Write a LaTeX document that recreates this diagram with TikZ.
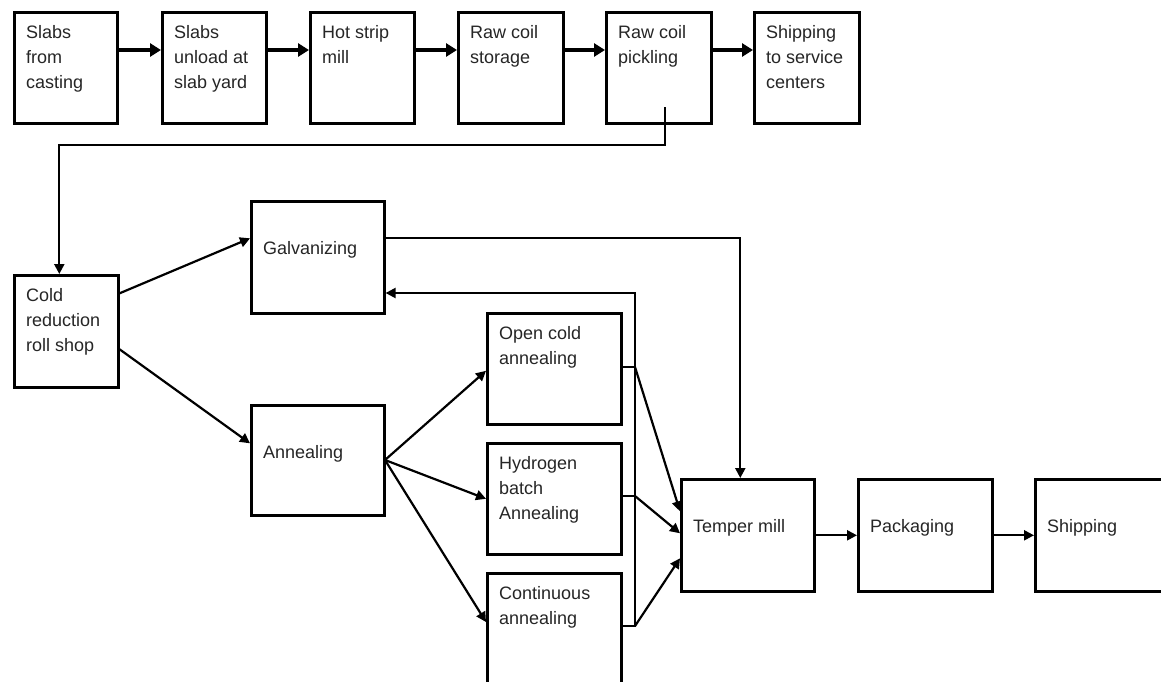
\documentclass[tikz,border=0pt]{standalone}
\usepackage{fontspec}
\setmainfont{Liberation Sans}
\usetikzlibrary{arrows.meta,calc}
\begin{document}
\begin{tikzpicture}[x=1pt,y=-1pt,
  box/.style={draw=black, line width=2.6pt, rectangle, inner sep=0pt, anchor=north west},
  txt/.style={inner sep=0pt, anchor=north west, align=left, text=black!85,
     font=\fontsize{18}{25}\selectfont},
  thick conn/.style={line width=3.8pt, -{Triangle[length=11pt,width=13pt]}},
  conn/.style={line width=2.2pt, -{Triangle[length=10pt,width=10pt]}},
  plain/.style={line width=2.2pt}]
\useasboundingbox (0,0) rectangle (1161,681);
\begin{scope}
\clip (0,0) rectangle (1161,681);
\fill[white] (0,0) rectangle (1161,681);
% top row
\node[box, minimum width=103pt, minimum height=111pt] (b1) at (13,11) {};
\node[box, minimum width=104pt, minimum height=111pt] (b2) at (161,11) {};
\node[box, minimum width=104pt, minimum height=111pt] (b3) at (309,11) {};
\node[box, minimum width=105pt, minimum height=111pt] (b4) at (457,11) {};
\node[box, minimum width=105pt, minimum height=111pt] (b5) at (605,11) {};
\node[box, minimum width=105pt, minimum height=111pt] (b6) at (753,11) {};
\node[txt] (t1) at ([shift={(13pt,-9.5pt)}]b1.north west) {\strut Slabs\\from\\casting};
\node[txt] (t2) at ([shift={(13pt,-9.5pt)}]b2.north west) {\strut Slabs\\unload at\\slab yard};
\node[txt] (t3) at ([shift={(13pt,-9.5pt)}]b3.north west) {\strut Hot strip\\mill};
\node[txt] (t4) at ([shift={(13pt,-9.5pt)}]b4.north west) {\strut Raw coil\\storage};
\node[txt] (t5) at ([shift={(13pt,-9.5pt)}]b5.north west) {\strut Raw coil\\pickling};
\node[txt] (t6) at ([shift={(13pt,-9.5pt)}]b6.north west) {\strut Shipping\\to service\\centers};
% middle/lower boxes
\node[box, minimum width=104pt, minimum height=112pt] (cold) at (13,274) {};
\node[box, minimum width=133pt, minimum height=112pt] (galv) at (250,200) {};
\node[box, minimum width=133pt, minimum height=110pt] (anneal) at (250,404) {};
\node[box, minimum width=134pt, minimum height=111pt] (open) at (486,312) {};
\node[box, minimum width=134pt, minimum height=111pt] (hyd) at (486,442) {};
\node[box, minimum width=134pt, minimum height=140pt] (cont) at (486,572) {};
\node[box, minimum width=133pt, minimum height=112pt] (temper) at (680,478) {};
\node[box, minimum width=134pt, minimum height=112pt] (pack) at (857,478) {};
\node[box, minimum width=140pt, minimum height=112pt] (ship) at (1034,478) {};
\node[txt] (tc) at ([shift={(13pt,-9.5pt)}]cold.north west) {\strut Cold\\reduction\\roll shop};
\node[txt] (tg) at ([shift={(13pt,-36.5pt)}]galv.north west) {\strut Galvanizing};
\node[txt] (ta) at ([shift={(13pt,-36.5pt)}]anneal.north west) {\strut Annealing};
\node[txt] (to) at ([shift={(13pt,-9.5pt)}]open.north west) {\strut Open cold\\annealing};
\node[txt] (th) at ([shift={(13pt,-9.5pt)}]hyd.north west) {\strut Hydrogen\\batch\\Annealing};
\node[txt] (tn) at ([shift={(13pt,-9.5pt)}]cont.north west) {\strut Continuous\\annealing};
\node[txt] (tt) at ([shift={(13pt,-36.5pt)}]temper.north west) {\strut Temper mill};
\node[txt] (tp) at ([shift={(13pt,-36.5pt)}]pack.north west) {\strut Packaging};
\node[txt] (ts) at ([shift={(13pt,-36.5pt)}]ship.north west) {\strut Shipping};
% top row arrows
\draw[thick conn] ([yshift=-39pt]b1.north east) -- ([yshift=-39pt]b2.north west);
\draw[thick conn] ([yshift=-39pt]b2.north east) -- ([yshift=-39pt]b3.north west);
\draw[thick conn] ([yshift=-39pt]b3.north east) -- ([yshift=-39pt]b4.north west);
\draw[thick conn] ([yshift=-39pt]b4.north east) -- ([yshift=-39pt]b5.north west);
\draw[thick conn] ([yshift=-39pt]b5.north east) -- ([yshift=-39pt]b6.north west);
% pickling to cold reduction
\coordinate (p0) at (665,107);
\coordinate (p1) at (665,145);
\draw[conn] (p0) -- (p1) -| ([xshift=-7pt]cold.north);
% cold reduction split
\draw[conn] ([yshift=38pt]cold.east) -- ([yshift=19pt]galv.west);
\draw[conn] ([yshift=-18pt]cold.east) -- ([yshift=17pt]anneal.west);
% galvanizing to temper
\draw[conn] ([yshift=19pt]galv.east) -| ([xshift=-7.5pt]temper.north);
% annealing fan
\coordinate (af) at (385,460);
\draw[conn] (af) -- ([yshift=-2pt]open.west);
\draw[conn] (af) -- (hyd.west);
\draw[conn] (af) -- ([yshift=-50pt]cont.north west);
% collectors
\coordinate (oj) at (620,367);
\coordinate (ob) at (635,367);
\coordinate (hj) at (620,496);
\coordinate (hb) at (635,496);
\coordinate (cj) at (620,626);
\coordinate (cb) at (635,626);
\coordinate (fb) at (635,293);
\draw[plain] (oj) -- (ob);
\draw[plain] (hj) -- (hb);
\draw[conn] (cj) -- (cb) -- (fb) -- (galv.east |- fb);
\draw[conn] (ob) -- ([yshift=24pt]temper.west);
\draw[conn] (hb) -- ([yshift=2pt]temper.west);
\draw[conn] (cb) -- ([yshift=-23pt]temper.west);
% bottom chain
\draw[conn] (temper.east) -- (pack.west);
\draw[conn] (pack.east) -- (ship.west);
\end{scope}
\end{tikzpicture}
\end{document}
